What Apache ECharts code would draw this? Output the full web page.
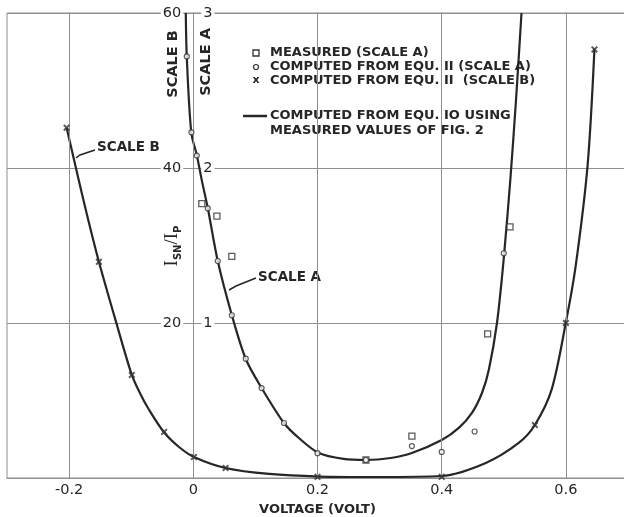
<!DOCTYPE html>
<html>
<head>
<meta charset="utf-8">
<script src="https://cdn.jsdelivr.net/npm/echarts@6/dist/echarts.min.js"></script>
<style>html,body{margin:0;padding:0;background:#fff}#c{width:624px;height:517px}</style>
</head>
<body>
<div id="c"></div>
<script>
// ---- data (voltage in volts, I_SN/I_P) ----
const xGridValues = [-0.2, 0, 0.2, 0.4, 0.6];
const xTickLabels = ['-0.2', '0', '0.2', '0.4', '0.6'];
const scaleBTicks = [20, 40, 60];
const scaleATicks = [1, 2, 3];

// solid curve, scale A (computed from Equ. 10)
const curveA = [
  [-0.0121, 3.0], [-0.0105, 2.716], [-0.0032, 2.226], [0.0056, 2.084], [0.0137, 1.92],
  [0.0233, 1.742], [0.0394, 1.40], [0.062, 1.052], [0.0845, 0.768], [0.110, 0.581],
  [0.146, 0.355], [0.170, 0.258], [0.202, 0.161], [0.242, 0.123], [0.278, 0.116],
  [0.318, 0.129], [0.352, 0.161], [0.400, 0.245], [0.428, 0.325], [0.449, 0.422],
  [0.465, 0.55], [0.476, 0.70], [0.489, 1.0], [0.500, 1.42], [0.511, 1.95],
  [0.519, 2.40], [0.524, 2.71], [0.5285, 3.0]
];
// solid curve, scale B
const curveB = [
  [-0.204, 45.2], [-0.189, 40.0], [-0.171, 33.9], [-0.152, 27.9], [-0.125, 20.3],
  [-0.099, 13.3], [-0.085, 10.8], [-0.072, 8.9], [-0.0475, 5.94], [-0.023, 4.0], [0.001, 2.71],
  [0.052, 1.29], [0.122, 0.52], [0.202, 0.19], [0.298, 0.13], [0.400, 0.26],
  [0.471, 1.94], [0.524, 4.52], [0.550, 6.84], [0.577, 11.4], [0.600, 20.1],
  [0.616, 27.5], [0.635, 40.4], [0.646, 55.4]
];
// measured (scale A) - squares
const measuredA = [
  [0.0137, 1.77], [0.038, 1.69], [0.062, 1.43], [0.278, 0.116], [0.352, 0.27],
  [0.474, 0.93], [0.510, 1.62]
];
// computed from Equ. 11 (scale A) - circles
const computedA = [
  [-0.0105, 2.72], [-0.003, 2.23], [0.0056, 2.08], [0.0233, 1.74], [0.0394, 1.40],
  [0.062, 1.05], [0.0845, 0.77], [0.110, 0.58], [0.146, 0.355], [0.200, 0.16],
  [0.278, 0.116], [0.352, 0.206], [0.400, 0.168], [0.453, 0.30], [0.500, 1.45]
];
// computed from Equ. 11 (scale B) - crosses
const computedB = [
  [-0.204, 45.2], [-0.152, 27.9], [-0.099, 13.3], [-0.047, 5.94], [0.001, 2.71],
  [0.052, 1.29], [0.200, 0.15], [0.400, 0.15], [0.550, 6.84], [0.600, 20.0],
  [0.646, 55.3]
];

const legendTexts = [
  'MEASURED (SCALE A)',
  'COMPUTED FROM EQU. II (SCALE A)',
  'COMPUTED FROM EQU. II  (SCALE B)',
  'COMPUTED FROM EQU. IO USING',
  'MEASURED VALUES OF FIG. 2'
];

const INK = '#262626';
const GRID = '#8f8f8f';
const FONT = 'DejaVu Sans';
const crossPath = 'path://M0,2L2,0L5,3L8,0L10,2L7,5L10,8L8,10L5,7L2,10L0,8L3,5Z';

const chart = echarts.init(document.getElementById('c'), null, {renderer: 'canvas'});

const labelStyle = {fontFamily: FONT, fontSize: 13, fontWeight: 'bold', color: INK};
const LEG_FONT = 'bold 13px DejaVu Sans';
const NOTE_FONT = 'bold 13.5px DejaVu Sans';
const VERT_FONT = 'bold 14.5px DejaVu Sans';

const option = {
  animation: false,
  backgroundColor: '#fff',
  grid: {
    left: 7, right: -4, top: 13, bottom: 39, show: true, borderColor: GRID, borderWidth: 1,
    containLabel: false, outerBoundsMode: 'none'
  },
  xAxis: {
    type: 'value', min: -0.3, max: 0.7, interval: 0.1,
    axisLine: {onZero: false, lineStyle: {color: GRID}},
    axisTick: {show: false},
    splitLine: {show: false},
    axisLabel: {
      fontFamily: FONT, fontSize: 14.5, color: INK,
      margin: 5,
      formatter: function (v) {
        const i = xGridValues.findIndex(g => Math.abs(g - v) < 1e-6);
        return i >= 0 ? xTickLabels[i] : '';
      }
    },
    name: 'VOLTAGE (VOLT)', nameLocation: 'middle', nameGap: 22,
    nameTextStyle: Object.assign({}, labelStyle)
  },
  yAxis: [
    {
      type: 'value', min: 0, max: 60, interval: 20, position: 'left', offset: 0,
      axisLine: {show: true, onZero: false, lineStyle: {color: GRID}},
      axisTick: {show: false},
      splitLine: {show: true, lineStyle: {color: GRID, width: 1}},
      axisLabel: {
        fontFamily: FONT, fontSize: 14.5, color: INK, margin: 10, backgroundColor: '#fff', padding: [0, 2],
        showMinLabel: false,
        formatter: function (v) { return scaleBTicks.indexOf(v) >= 0 ? String(v) : ''; }
      }
    },
    {
      type: 'value', min: 0, max: 3, interval: 1, position: 'right', offset: 0,
      axisLine: {show: true, onZero: false, lineStyle: {color: GRID}},
      axisTick: {show: false},
      splitLine: {show: false},
      axisLabel: {
        fontFamily: FONT, fontSize: 14.5, color: INK, margin: 8, backgroundColor: '#fff', padding: [0, 2],
        showMinLabel: false,
        formatter: function (v) { return scaleATicks.indexOf(v) >= 0 ? String(v) : ''; }
      }
    }
  ],
  series: [
    {
      name: 'grid', type: 'line', data: [], z: 1, silent: true,
      markLine: {
        silent: true, symbol: ['none', 'none'], label: {show: false},
        lineStyle: {color: GRID, width: 1, type: 'solid'},
        animation: false,
        data: xGridValues.map(v => ({xAxis: v}))
      }
    },
    {
      name: 'Equ10 A', type: 'line', yAxisIndex: 1, data: curveA, smooth: 0.3,
      showSymbol: false, symbol: 'none', z: 3,
      lineStyle: {color: INK, width: 2.2}
    },
    {
      name: 'Equ10 B', type: 'line', yAxisIndex: 0, data: curveB, smooth: 0.3,
      showSymbol: false, symbol: 'none', z: 3,
      lineStyle: {color: INK, width: 2.2}
    },
    {
      name: 'Measured', type: 'scatter', yAxisIndex: 1, data: measuredA, symbol: 'rect',
      symbolSize: 6, z: 5,
      itemStyle: {color: '#fff', borderColor: '#333', borderWidth: 1.3}
    },
    {
      name: 'Equ11 A', type: 'scatter', yAxisIndex: 1, data: computedA, symbol: 'circle',
      symbolSize: 5, z: 5,
      itemStyle: {color: '#fff', borderColor: '#333', borderWidth: 1.2}
    },
    {
      name: 'Equ11 B', type: 'scatter', yAxisIndex: 0, data: computedB, symbol: crossPath,
      symbolSize: 7, z: 5,
      itemStyle: {color: '#333'}
    }
  ],
  graphic: [
    // legend
    {type: 'rect', shape: {x: 253, y: 50, width: 6, height: 6}, style: {fill: '#fff', stroke: '#333', lineWidth: 1.3}},
    {type: 'circle', shape: {cx: 256, cy: 67, r: 2.5}, style: {fill: '#fff', stroke: '#333', lineWidth: 1.2}},
    {type: 'text', x: 256, y: 80, style: {text: 'x', font: 'bold 11px DejaVu Sans', fill: INK, align: 'center', verticalAlign: 'middle'}},
    {type: 'line', shape: {x1: 243, y1: 116, x2: 267, y2: 116}, style: {stroke: INK, lineWidth: 2.5}},
    {type: 'text', x: 270, y: 53, style: {text: legendTexts[0], font: LEG_FONT, fill: INK, verticalAlign: 'middle'}},
    {type: 'text', x: 270, y: 67, style: {text: legendTexts[1], font: LEG_FONT, fill: INK, verticalAlign: 'middle'}},
    {type: 'text', x: 270, y: 81, style: {text: legendTexts[2], font: LEG_FONT, fill: INK, verticalAlign: 'middle'}},
    {type: 'text', x: 270, y: 116, style: {text: legendTexts[3], font: LEG_FONT, fill: INK, verticalAlign: 'middle'}},
    {type: 'text', x: 270, y: 131, style: {text: legendTexts[4], font: LEG_FONT, fill: INK, verticalAlign: 'middle'}},
    // vertical axis titles
    {type: 'text', x: 173, y: 64, rotation: Math.PI / 2, style: {text: 'SCALE B', font: VERT_FONT, fill: INK, align: 'center', verticalAlign: 'middle'}},
    {type: 'text', x: 206, y: 62, rotation: Math.PI / 2, style: {text: 'SCALE A', font: VERT_FONT, fill: INK, align: 'center', verticalAlign: 'middle'}},
    {type: 'text', x: 172, y: 246, rotation: Math.PI / 2, style: {
      text: '{i|I}{s|SN}{i|/I}{s|P}', align: 'center', verticalAlign: 'middle', fill: INK,
      rich: {
        i: {fontFamily: 'Liberation Serif', fontSize: 19, fill: INK, verticalAlign: 'middle', lineHeight: 22},
        s: {fontFamily: FONT, fontSize: 10, fontWeight: 'bold', fill: INK, verticalAlign: 'bottom', lineHeight: 22}
      }
    }},
    // annotations
    {type: 'polyline', shape: {points: [[76, 158], [80, 155], [95, 150]]}, style: {stroke: INK, lineWidth: 1.5, fill: null}},
    {type: 'text', x: 97, y: 147, style: {text: 'SCALE B', font: NOTE_FONT, fill: INK, verticalAlign: 'middle'}},
    {type: 'polyline', shape: {points: [[229, 290], [236, 286], [256, 278]]}, style: {stroke: INK, lineWidth: 1.5, fill: null}},
    {type: 'text', x: 258, y: 277, style: {text: 'SCALE A', font: NOTE_FONT, fill: INK, verticalAlign: 'middle'}}
  ]
};
chart.setOption(option);

// place both value scales on the V = 0 line using the library's own x scale
const pxLeft = chart.convertToPixel({xAxisIndex: 0}, -0.3);
const pxRight = chart.convertToPixel({xAxisIndex: 0}, 0.7);
const pxZero = chart.convertToPixel({xAxisIndex: 0}, 0);
chart.setOption({
  yAxis: [
    {offset: -(pxZero - pxLeft)},
    {offset: -(pxRight - pxZero)}
  ]
});
</script>
</body>
</html>
